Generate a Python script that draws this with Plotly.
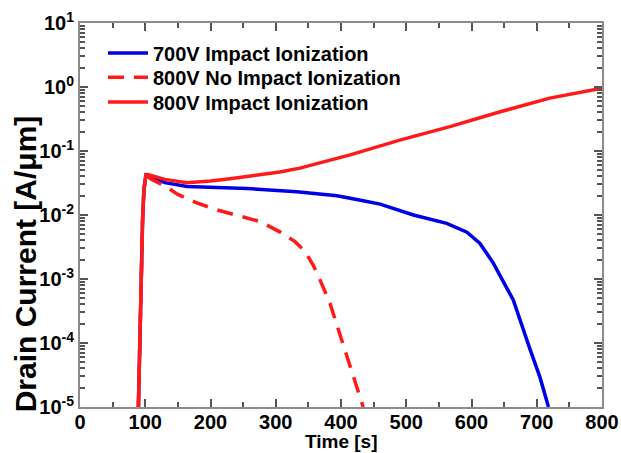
import plotly.graph_objects as go

# ---- data ----
t_700 = [89.5, 92, 94, 96, 98, 101, 105, 130, 164, 256, 332, 394, 430, 460, 511,
         562, 593, 613, 633, 654, 664, 690, 705, 718]
i_700 = [1e-5, 2e-4, 2e-3, 9e-3, 0.025, 0.042, 0.040, 0.032, 0.028, 0.026, 0.023,
         0.020, 0.017, 0.0148, 0.010, 0.0074, 0.0054, 0.0036, 0.0018, 7.5e-4, 4.7e-4,
         7.8e-5, 2.9e-5, 1e-5]

t_800n = [89.5, 92, 94, 96, 98, 101, 110, 128, 150, 179, 210, 240, 276, 307, 330,
          345, 358, 368, 383, 397, 411, 423, 434]
i_800n = [1e-5, 2e-4, 2e-3, 9e-3, 0.025, 0.042, 0.036, 0.029, 0.021, 0.0155, 0.012,
          0.010, 0.0079, 0.0054, 0.0038, 0.0027, 0.0016, 9.6e-4, 4.2e-4, 1.5e-4, 5.4e-5,
          2.2e-5, 1e-5]

t_800 = [89.5, 92, 94, 96, 98, 101, 103, 130, 164, 200, 230, 270, 306, 337, 414,
         490, 567, 644, 720, 800]
i_800 = [1e-5, 2e-4, 2e-3, 9e-3, 0.025, 0.042, 0.043, 0.036, 0.032, 0.034, 0.037,
         0.042, 0.047, 0.054, 0.087, 0.148, 0.24, 0.41, 0.67, 0.96]

names = ["700V Impact Ionization", "800V No Impact Ionization", "800V Impact Ionization"]

x_ticks = [0, 100, 200, 300, 400, 500, 600, 700, 800]
y_tickvals = [1e-5, 1e-4, 1e-3, 1e-2, 1e-1, 1e0, 1e1]
y_ticktext = ["10<sup>-5</sup>", "10<sup>-4</sup>", "10<sup>-3</sup>", "10<sup>-2</sup>",
              "10<sup>-1</sup>", "10<sup>0</sup>", "10<sup>1</sup>"]
x_title = "Time [s]"
y_title = "Drain Current [A/μm]"

FONT = "Liberation Sans, Arial, Helvetica, sans-serif"

fig = go.Figure()
fig.add_trace(go.Scatter(x=t_700, y=i_700, mode="lines", name=names[0], legend="legend",
                         line=dict(color="#0000e6", width=3.5)))
fig.add_trace(go.Scatter(x=t_800n, y=i_800n, mode="lines", name=names[1], legend="legend2",
                         line=dict(color="#ff1a1a", width=3.5, dash="16px,10px")))
fig.add_trace(go.Scatter(x=t_800, y=i_800, mode="lines", name=names[2], legend="legend3",
                         line=dict(color="#ff1a1a", width=3.5)))

axis_common = dict(showline=True, linecolor="#8c8c8c", linewidth=2, mirror="ticks",
                   ticks="inside", tickcolor="#555555", ticklen=8, tickwidth=1.5,
                   showgrid=False, zeroline=False, automargin=False,
                   tickfont=dict(family=FONT, size=20, color="black", weight="bold"))

fig.update_xaxes(range=[0, 800], tickvals=x_ticks, ticktext=[str(v) for v in x_ticks],
                 minor=dict(ticks="inside", ticklen=5, tickcolor="#555555", dtick=50),
                 ticklabelstandoff=-4,
                 **axis_common)
fig.update_yaxes(type="log", range=[-5, 1], tickvals=y_tickvals, ticktext=y_ticktext,
                 minor=dict(ticks="inside", ticklen=5, tickcolor="#555555", dtick="D1"),
                 **axis_common)

leg_common = dict(xanchor="left", yanchor="middle", bgcolor="rgba(0,0,0,0)",
                  font=dict(family=FONT, size=20, color="black", weight="bold"),
                  itemwidth=40)

fig.update_layout(
    width=621, height=453,
    margin=dict(l=80, r=19, t=23, b=46),
    plot_bgcolor="white", paper_bgcolor="white",
    showlegend=True,
    legend=dict(x=0.044, y=0.922, **leg_common),
    legend2=dict(x=0.044, y=0.859, **leg_common),
    legend3=dict(x=0.044, y=0.794, **leg_common),
    annotations=[
        dict(text="<b>" + x_title + "</b>", xref="paper", yref="paper", x=0.5, y=-0.06,
             xanchor="center", yanchor="top", showarrow=False, borderpad=0,
             font=dict(family=FONT, size=19, color="black")),
        dict(text="<b>" + y_title + "</b>", xref="paper", yref="paper", x=-0.105, y=0.372,
             xanchor="center", yanchor="middle", textangle=-90, showarrow=False,
             borderpad=0, font=dict(family=FONT, size=30, color="black")),
    ],
)

fig.write_html("out.html", config={"displayModeBar": False},
               post_script="document.body.style.margin='0px';"
                           "document.body.style.overflow='hidden';")
